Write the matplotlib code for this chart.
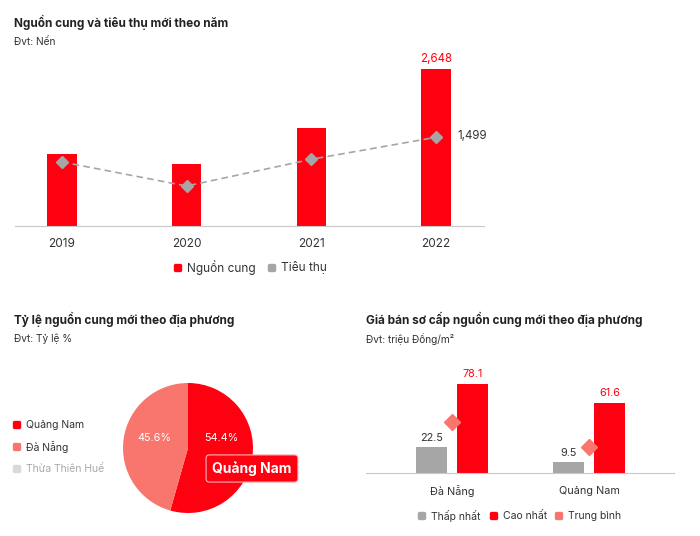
import matplotlib
matplotlib.use("Agg")
import matplotlib.pyplot as plt
from matplotlib.patches import FancyBboxPatch
import numpy as np

plt.rcParams['font.family'] = ['Inter', 'DejaVu Sans']

# --- data ---
years = ['2019', '2020', '2021', '2022']
supply = [1212, 1043, 1661, 2648]
sold = [1082, 676, 1127, 1499]

regions = ['Quảng Nam', 'Đà Nẵng', 'Thừa Thiên Huế']
shares = [54.4, 45.6, 0.0]

price_regions = ['Đà Nẵng', 'Quảng Nam']
price_low = [22.5, 9.5]
price_high = [78.1, 61.6]
price_avg = [44.7, 23.1]

RED = '#ff0011'
SALMON = '#f8766d'
GREY = '#a6a6a6'
DARK = '#333333'
LINE = '#c8c8c8'

W, H = 700, 536
fig = plt.figure(figsize=(W / 100, H / 100), dpi=100)


def box(x0, y0, x1, y1):
    # pixel box (top-left origin) -> figure fraction
    return [x0 / W, 1 - y1 / H, (x1 - x0) / W, (y1 - y0) / H]


def ftext(x, y, s, **kw):
    fig.text(x / W, 1 - y / H, s, **kw)


def legend_item(x, y, color, label, tcolor=DARK, size=7.5):
    fig.patches.append(FancyBboxPatch((x / W - 3.5 / W, 1 - y / H - 3.5 / H), 7 / W, 7 / H,
                                      boxstyle="round,pad=0,rounding_size=0.002",
                                      transform=fig.transFigure, color=color))
    ftext(x + 9, y, label, fontsize=size, color=tcolor, va='center', ha='left')


# --- top: supply and sales by year ---
ftext(14, 22, 'Nguồn cung và tiêu thụ mới theo năm', fontsize=8.5, fontweight='bold',
      color='#222222', va='center')
ftext(14, 42, 'Đvt: Nến', fontsize=7.3, color=DARK, va='center')

ax = fig.add_axes(box(15, 60, 484, 226))
xs = range(len(years))
ax.bar(xs, supply, width=0.233, color=RED, zorder=2)
ax.plot(xs, sold, color=GREY, ls=(0, (4, 2.5)), lw=1.2, marker='D', ms=6,
        mec=GREY, mfc=GREY, zorder=3)
ax.set_xlim(-0.377, 3.385)
ax.set_ylim(0, 2805)
ax.text(3, supply[3] + 70, f'{supply[3]:,}', color=RED, ha='center', va='bottom', fontsize=8.3)
ax.text(3.17, sold[3] + 20, f'{sold[3]:,}', color=DARK, ha='left', va='center', fontsize=8.3)
ax.set_xticks(list(xs))
ax.set_xticklabels(years, fontsize=8.5, color=DARK)
ax.tick_params(length=0, pad=9)
ax.set_yticks([])
for s in ['top', 'right', 'left']:
    ax.spines[s].set_visible(False)
ax.spines['bottom'].set_color(LINE)
legend_item(178, 268, RED, 'Nguồn cung', size=8.5)
legend_item(272, 268, GREY, 'Tiêu thụ', size=8.5)

# --- bottom left: share by region ---
ftext(14, 319, 'Tỷ lệ nguồn cung mới theo địa phương', fontsize=8.5, fontweight='bold',
      color='#222222', va='center')
ftext(14, 339, 'Đvt: Tỷ lệ %', fontsize=7.3, color=DARK, va='center')

axp = fig.add_axes(box(123, 383, 253, 513))
wedges, _ = axp.pie(shares[:2], colors=[RED, SALMON], startangle=90, counterclock=False,
                    radius=1.0, wedgeprops=dict(linewidth=0))
axp.set_xlim(-1.0, 1.0)
axp.set_ylim(-1.0, 1.0)
for w, v in zip(wedges, shares[:2]):
    mid = np.deg2rad((w.theta1 + w.theta2) / 2)
    axp.text(0.52 * np.cos(mid), 0.16, f'{v}%', color='white', fontsize=7.8,
             ha='center', va='center')

ftext(252, 468.5, 'Quảng Nam', fontsize=10, fontweight='bold', color='white', ha='center',
      va='center', bbox=dict(boxstyle='round,pad=0.45,rounding_size=0.25', fc=RED,
                             ec='#ffb3b8', lw=0.8))

pie_cols = [RED, SALMON, '#d9d9d9']
pie_txt = [DARK, DARK, '#aaaaaa']
for i, r in enumerate(regions):
    legend_item(17, 425 + 22 * i, pie_cols[i], r, pie_txt[i])

# --- bottom right: primary price by region ---
ftext(366, 319, 'Giá bán sơ cấp nguồn cung mới theo địa phương', fontsize=8.5,
      fontweight='bold', color='#222222', va='center')
ftext(366, 339, 'Đvt: triệu Đồng/m²', fontsize=7.3, color=DARK, va='center')

axb = fig.add_axes(box(366, 360, 674, 473))
px = np.arange(len(price_regions))
axb.bar(px - 0.15, price_low, width=0.23, color=GREY, zorder=2)
axb.bar(px + 0.15, price_high, width=0.23, color=RED, zorder=2)
axb.plot(px, price_avg, ls='none', marker='D', ms=8, mfc=SALMON, mec=SALMON,
         zorder=3)
for i in range(len(px)):
    axb.text(px[i] - 0.15, price_low[i] + 4, f'{price_low[i]}', color=DARK, ha='center',
             va='bottom', fontsize=7.8)
    axb.text(px[i] + 0.15, price_high[i] + 4, f'{price_high[i]}', color=RED, ha='center',
             va='bottom', fontsize=7.8)
axb.set_xlim(-0.628, 1.62)
axb.set_ylim(0, 99)
axb.set_xticks(px)
axb.set_xticklabels(price_regions, fontsize=7.8, color=DARK)
axb.tick_params(length=0, pad=9)
axb.set_yticks([])
for s in ['top', 'right', 'left']:
    axb.spines[s].set_visible(False)
axb.spines['bottom'].set_color(LINE)
legend_item(422, 516, GREY, 'Thấp nhất')
legend_item(494, 516, RED, 'Cao nhất')
legend_item(559, 516, SALMON, 'Trung bình')

fig.savefig('out.png', dpi=100, facecolor='white')
